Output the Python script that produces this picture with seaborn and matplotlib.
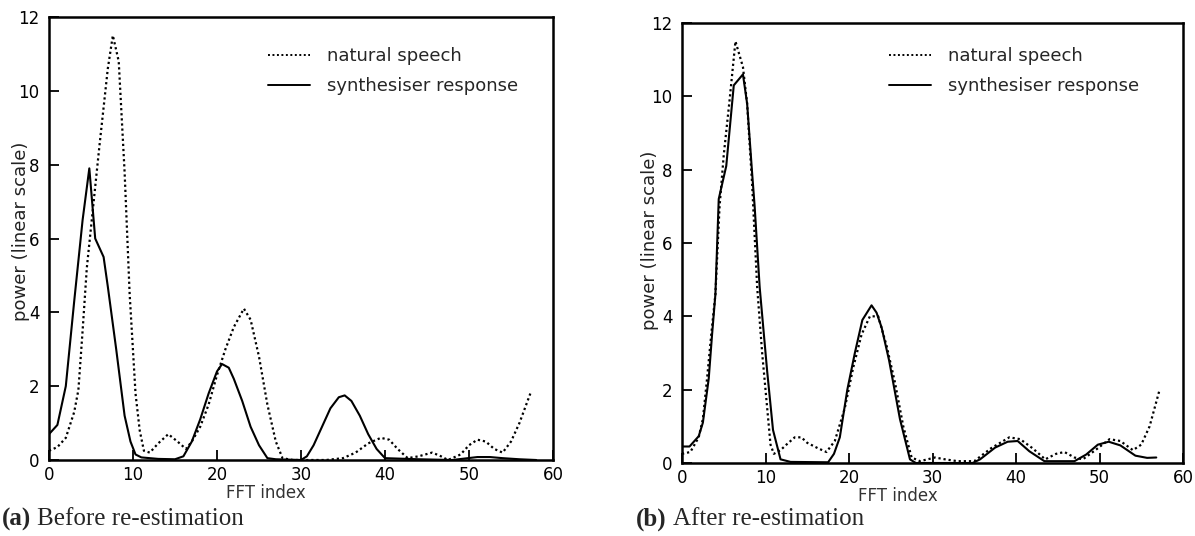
import numpy as np
import pandas as pd
import matplotlib
matplotlib.use("Agg")
import matplotlib.pyplot as plt
import seaborn as sns

# ---- data ----
a_nat_x = [0, 1, 2, 3, 3.5, 4, 4.5, 5, 6, 7, 7.6, 8.3, 9.0, 9.6, 10.3, 10.8, 11.3, 12, 13, 14.2, 15.3,
           16.3, 17, 18, 19, 20, 21, 22, 23.2, 24, 25, 26, 27, 27.8, 29, 33, 35, 36.5, 38, 39.5, 40.5,
           41.5, 42.7, 44, 45.6, 46.5, 47.5, 49, 50, 51, 52, 53, 54, 55, 56, 57.3]
a_nat_y = [0.25, 0.35, 0.6, 1.3, 1.9, 3.5, 5.2, 6.3, 8.5, 10.6, 11.5, 10.8, 7.8, 4.5, 1.8, 0.8, 0.25, 0.2,
           0.45, 0.7, 0.5, 0.3, 0.5, 0.9, 1.5, 2.3, 3.0, 3.6, 4.1, 3.8, 2.8, 1.5, 0.5, 0.05, 0.0, 0.0,
           0.05, 0.2, 0.45, 0.6, 0.55, 0.3, 0.05, 0.1, 0.2, 0.12, 0.0, 0.15, 0.4, 0.55, 0.5, 0.3, 0.2,
           0.5, 1.0, 1.8]
a_syn_x = [0, 1, 2, 3, 4, 4.8, 5.5, 6.5, 7, 8, 9, 9.7, 10.3, 11, 13, 15, 16, 17, 18, 19, 20, 20.6,
           21.4, 22, 23, 24, 25, 26, 27, 30, 30.7, 31.5, 32.5, 33.5, 34.5, 35.2, 36, 37, 38, 39, 40,
           44, 48, 49.5, 51, 52.5, 54, 56, 58]
a_syn_y = [0.7, 0.95, 2.0, 4.3, 6.5, 7.9, 6.0, 5.5, 4.7, 3.0, 1.2, 0.5, 0.15, 0.07, 0.03, 0.02, 0.1,
           0.5, 1.1, 1.8, 2.4, 2.6, 2.5, 2.2, 1.6, 0.9, 0.4, 0.05, 0.02, 0.0, 0.1, 0.4, 0.9, 1.4, 1.7,
           1.75, 1.6, 1.2, 0.7, 0.3, 0.05, 0.02, 0.0, 0.04, 0.08, 0.08, 0.05, 0.02, 0.0]

b_nat_x = [0, 1, 2, 2.5, 3, 3.5, 4.0, 4.5, 5.0, 5.7, 6.4, 7.3, 7.8, 8.4, 9.0, 9.6, 10.2, 10.6, 11.0,
           11.8, 12.5, 13.5, 14.3, 15.0, 16.3, 17.3, 18.3, 19.5, 20.5, 21.5, 22.5, 23.5, 24.5, 25.5,
           26.5, 27.5, 28.5, 30.3, 31.5, 33, 35, 37, 39.2, 40.5, 42, 43.5, 44.8, 45.8, 47, 48, 49.5,
           51.2, 52.5, 54, 55, 56, 57.2]
b_nat_y = [0.25, 0.3, 0.7, 1.2, 2.3, 3.5, 4.6, 7.0, 8.4, 9.9, 11.5, 10.8, 9.8, 7.6, 4.8, 3.0, 1.5, 0.5,
           0.25, 0.35, 0.5, 0.7, 0.7, 0.55, 0.4, 0.3, 0.6, 1.5, 2.6, 3.5, 4.0, 4.0, 3.2, 2.2, 1.0, 0.15,
           0.05, 0.15, 0.1, 0.05, 0.05, 0.4, 0.7, 0.65, 0.4, 0.1, 0.25, 0.3, 0.15, 0.1, 0.35, 0.65, 0.6,
           0.35, 0.5, 1.0, 2.0]
b_syn_x = [0, 0.9, 2, 2.5, 3.2, 3.6, 4.0, 4.4, 5.3, 6.2, 7.3, 7.8, 8.4, 8.7, 9.3, 10.2, 10.9, 11.8, 13,
           17.5, 18.2, 18.9, 19.8, 20.7, 21.6, 22.7, 23.3, 23.9, 24.8, 26.1, 27.3, 28, 34.8, 35.7, 37.5,
           39, 40.2, 41.6, 43.4, 47, 48.4, 49.8, 51.1, 52.5, 54.3, 55.7, 56.8]
b_syn_y = [0.45, 0.45, 0.73, 1.1, 2.3, 3.5, 4.6, 7.2, 8.1, 10.3, 10.6, 9.8, 7.9, 7.0, 4.8, 2.5, 0.9, 0.1,
           0.03, 0.02, 0.25, 0.7, 2.0, 3.0, 3.9, 4.3, 4.1, 3.7, 2.8, 1.2, 0.1, 0.0, 0.0, 0.1, 0.42, 0.58,
           0.6, 0.32, 0.05, 0.05, 0.23, 0.5, 0.58, 0.48, 0.2, 0.14, 0.15]

series_names = ["natural speech", "synthesiser response"]
x_ticks = [0, 10, 20, 30, 40, 50, 60]
y_ticks = [0, 2, 4, 6, 8, 10, 12]
captions = [("(a)", "Before re-estimation"), ("(b)", "After re-estimation")]
x_label = "FFT index"
y_label = "power (linear scale)"

# ---- plotting ----
sns.set_theme(style="white")
plt.rcParams['font.family'] = ['DejaVu Sans']

W, H = 1195, 536
fig = plt.figure(figsize=(W / 100, H / 100), dpi=100)

def frac(x0, y0, x1, y1):
    return [x0 / W, 1 - y1 / H, (x1 - x0) / W, (y1 - y0) / H]

axes = [fig.add_axes(frac(49, 17, 553, 460)), fig.add_axes(frac(682, 23, 1183, 463))]
panels = [(a_nat_x, a_nat_y, a_syn_x, a_syn_y), (b_nat_x, b_nat_y, b_syn_x, b_syn_y)]
legend_anchor = [(268, 47), (889, 47)]   # pixel position of legend's upper-left
ylabel_pos = [(-0.056, 0.517), (-0.064, 0.505)]

dot_style = (0, (1.0, 1.3))
for ax, (nx, ny, sx, sy), (lx, ly), (yx, yy) in zip(axes, panels, legend_anchor, ylabel_pos):
    dn = pd.DataFrame({"x": nx, "y": ny})
    ds = pd.DataFrame({"x": sx, "y": sy})
    sns.lineplot(data=dn, x="x", y="y", ax=ax, color="black", lw=1.6, sort=False,
                 linestyle=dot_style, label=series_names[0])
    sns.lineplot(data=ds, x="x", y="y", ax=ax, color="black", lw=1.5, sort=False,
                 label=series_names[1])
    ax.set_xlim(0, 60)
    ax.set_ylim(0, 12)
    ax.set_xticks(x_ticks)
    ax.set_yticks(y_ticks)
    ax.set_xlabel("")
    ax.set_ylabel("")
    for s in ax.spines.values():
        s.set_color("black")
        s.set_linewidth(1.8)
        s.set_visible(True)
    ax.tick_params(axis="both", which="major", direction="in", length=7, width=1.3,
                   colors="black", labelsize=12, bottom=True, left=True, top=False, right=False)
    ax.tick_params(axis="x", pad=4)
    ax.tick_params(axis="y", pad=7)
    ax.text(0.43, -0.074, x_label, transform=ax.transAxes, ha="center", va="center",
            fontsize=12, color="#333333")
    ax.text(yx, yy, y_label, transform=ax.transAxes, ha="center", va="center",
            rotation=90, fontsize=13, color="#222222")
    leg = ax.legend(loc="upper left", bbox_to_anchor=(lx / W, 1 - ly / H),
                    bbox_transform=fig.transFigure, frameon=False, borderpad=0,
                    borderaxespad=0, fontsize=13, handlelength=2.3, handletextpad=0.95,
                    labelspacing=0.67)
    for line in leg.get_lines():
        line.set_linewidth(1.4)

fig.canvas.draw()
renderer = fig.canvas.get_renderer()
for (tag, rest), x0 in zip(captions, [2, 636]):
    t = fig.text(x0 / W, 1 - 519 / H, tag, fontsize=18, fontweight="bold",
                 family="Liberation Serif", va="center", ha="left")
    bb = t.get_window_extent(renderer)
    fig.text((bb.x1 + 6) / W, 1 - 519 / H, rest, fontsize=18, family="Liberation Serif",
             va="center", ha="left")

fig.savefig("out.png", dpi=100)
